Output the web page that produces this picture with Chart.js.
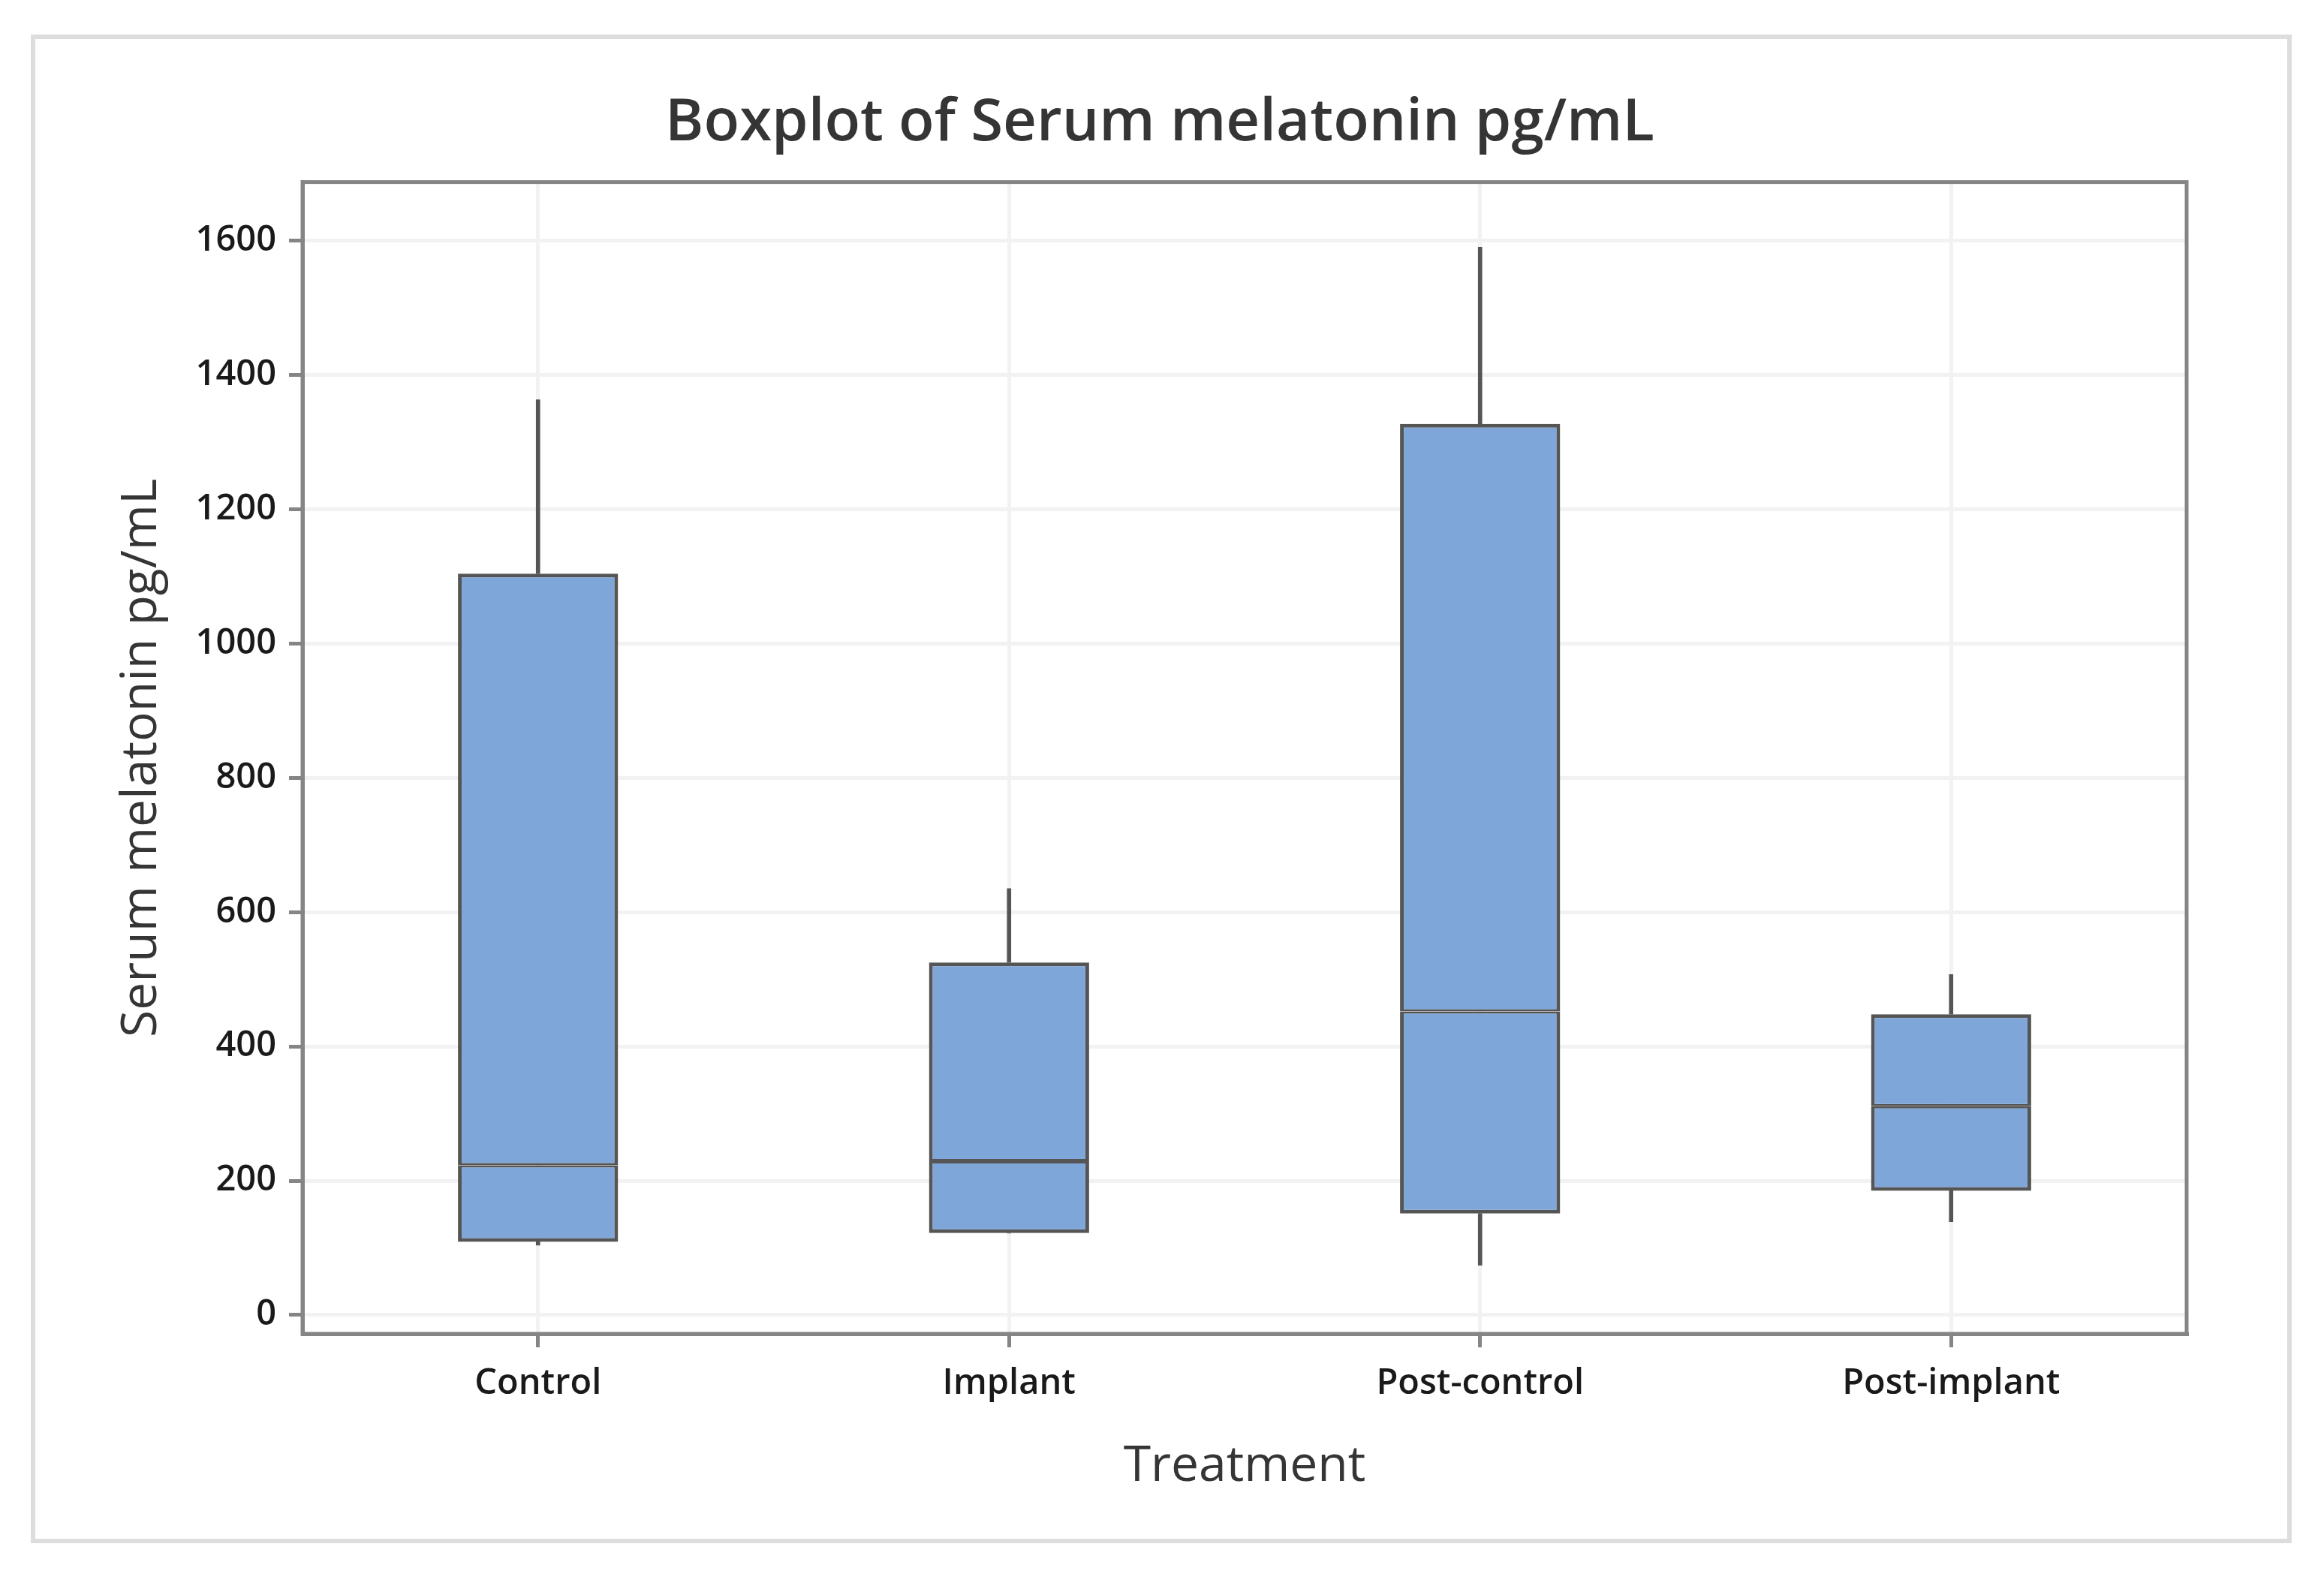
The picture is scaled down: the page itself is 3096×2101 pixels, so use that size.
<!DOCTYPE html>
<html>
<head>
<meta charset="utf-8">
<title>Boxplot of Serum melatonin pg/mL</title>
<script src="https://cdn.jsdelivr.net/npm/chart.js@4.4.1/dist/chart.umd.min.js"></script>
<style>
    html, body { margin: 0; padding: 0; background: #fff; }
    #wrap { width: 3096px; height: 2101px; position: relative; }
</style>
</head>
<body>
<div id="wrap"><canvas id="boxChart"></canvas></div>
<script>
// Boxplot data (pg/mL)
const categories = ['Control', 'Implant', 'Post-control', 'Post-implant'];
const whiskerLow = [104, 122, 74, 139];
const q1 = [109, 122, 151, 185];
const median = [223, 229, 452, 311];
const q3 = [1104, 525, 1327, 448];
const whiskerHigh = [1363, 635, 1590, 507];
const yTicks = [0, 200, 400, 600, 800, 1000, 1200, 1400, 1600];

const boxFill = '#7EA6D8';
const boxLine = '#555555';
const frameColor = '#858585';
const gridColor = '#F2F2F2';

Chart.defaults.font.family = '"Open Sans", "Noto Sans", sans-serif';

// pairs for floating bars
const pairs = (a, b) => a.map((v, i) => [v, b[i]]);

// light outer border + plot frame
const framePlugin = {
    id: 'frame',
    beforeDraw(chart) {
        const ctx = chart.ctx;
        ctx.save();
        ctx.fillStyle = '#ffffff';
        ctx.fillRect(0, 0, chart.width, chart.height);
        ctx.strokeStyle = '#DDDDDD';
        ctx.lineWidth = 6;
        ctx.strokeRect(44, 49, 3006, 2004);
        ctx.restore();
    },
    afterDraw(chart) {
        const a = chart.chartArea;
        const ctx = chart.ctx;
        ctx.save();
        ctx.strokeStyle = frameColor;
        ctx.lineWidth = 5;
        ctx.strokeRect(a.left, a.top, a.right - a.left, a.bottom - a.top);
        ctx.restore();
    }
};

const ctx = document.getElementById('boxChart').getContext('2d');
new Chart(ctx, {
    type: 'bar',
    data: {
        labels: categories,
        datasets: [
            {
                label: 'lower whisker',
                data: pairs(whiskerLow, q1),
                backgroundColor: boxLine,
                borderWidth: 0,
                barThickness: 5,
                grouped: false,
                order: 2
            },
            {
                label: 'upper whisker',
                data: pairs(q3, whiskerHigh),
                backgroundColor: boxLine,
                borderWidth: 0,
                barThickness: 5,
                grouped: false,
                order: 2
            },
            {
                label: 'Q1 - median',
                data: pairs(q1, median),
                backgroundColor: boxFill,
                borderColor: boxLine,
                borderWidth: { top: 3, bottom: 5, left: 5, right: 5 },
                borderSkipped: false,
                barPercentage: 0.34,
                categoryPercentage: 1,
                grouped: false,
                order: 1
            },
            {
                label: 'median - Q3',
                data: pairs(median, q3),
                backgroundColor: boxFill,
                borderColor: boxLine,
                borderWidth: { top: 5, bottom: 3, left: 5, right: 5 },
                borderSkipped: false,
                barPercentage: 0.34,
                categoryPercentage: 1,
                grouped: false,
                order: 1
            }
        ]
    },
    options: {
        responsive: true,
        maintainAspectRatio: false,
        devicePixelRatio: 1,
        animation: false,
        layout: {
            padding: { left: 177, right: 183, top: 0, bottom: 0 }
        },
        plugins: {
            legend: { display: false },
            tooltip: { enabled: false },
            title: {
                display: true,
                text: 'Boxplot of Serum melatonin pg/mL',
                color: '#353535',
                font: { size: 78, weight: '600' },
                padding: { top: 118, bottom: 31 }
            }
        },
        scales: {
            x: {
                offset: true,
                afterFit: scale => { scale.height = 324; },
                grid: {
                    offset: false,
                    color: gridColor,
                    lineWidth: 5,
                    tickColor: frameColor,
                    tickWidth: 5,
                    tickLength: 18
                },
                border: { color: frameColor, width: 5 },
                ticks: {
                    color: '#1A1A1A',
                    padding: 20,
                    font: { size: 47, weight: '600' }
                },
                title: {
                    display: true,
                    text: 'Treatment',
                    color: '#353535',
                    font: { size: 66, weight: '500' },
                    padding: { top: 0, bottom: 107 }
                }
            },
            y: {
                min: -28,
                max: 1687,
                afterFit: scale => { scale.width = 403 - 177; },
                afterBuildTicks: scale => {
                    scale.ticks = yTicks.map(v => ({ value: v }));
                },
                grid: {
                    color: gridColor,
                    lineWidth: 5,
                    tickColor: frameColor,
                    tickWidth: 5,
                    tickLength: 18
                },
                border: { color: frameColor, width: 5 },
                ticks: {
                    color: '#1A1A1A',
                    padding: 17,
                    font: { size: 47, weight: '600' },
                    callback: value => String(value)
                },
                title: {
                    display: true,
                    text: 'Serum melatonin pg/mL',
                    color: '#353535',
                    font: { size: 66, weight: '500' },
                    padding: { top: -27, bottom: 0 }
                }
            }
        }
    },
    plugins: [framePlugin]
});
</script>
</body>
</html>
